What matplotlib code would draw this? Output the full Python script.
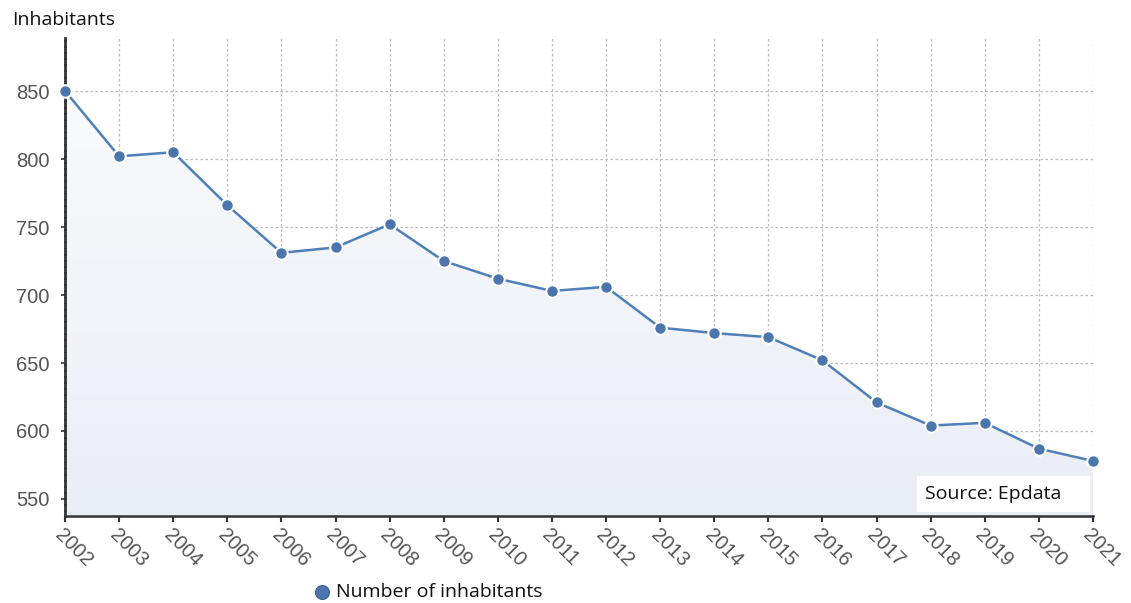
import matplotlib.pyplot as plt
import matplotlib.colors as mcolors
from matplotlib.patches import Rectangle
import numpy as np

years = list(range(2002, 2022))
inhabitants = [850, 802, 805, 766, 731, 735, 752, 725, 712, 703,
               706, 676, 672, 669, 652, 621, 604, 606, 587, 578]
y_ticks = [550, 600, 650, 700, 750, 800, 850]

line_color = '#4f7fb8'
marker_color = '#4a76ad'

W, H = 1131, 603
fig = plt.figure(figsize=(W / 100, H / 100), dpi=100)
ax = fig.add_axes([0.0575, 0.1443, 0.9089, 0.7927])
ax.set_xlim(2002, 2021)
ax.set_ylim(537.5, 889)

# gradient area under the line
fill = ax.fill_between(years, inhabitants, 537.5, color='none')
grad = np.linspace(0, 1, 256).reshape(-1, 1)
cmap = mcolors.LinearSegmentedColormap.from_list('g', ['#eaeef5', '#fafbfd'])
img = ax.imshow(grad, extent=[2002, 2021, 537.5, 889], aspect='auto',
                cmap=cmap, origin='lower', zorder=1)
img.set_clip_path(fill.get_paths()[0], transform=ax.transData)

ax.plot(years, inhabitants, color=line_color, lw=1.8, zorder=3,
        marker='o', markersize=9, markerfacecolor=marker_color,
        markeredgecolor='white', markeredgewidth=1.5, clip_on=False)

ax.set_xticks(years)
ax.set_yticks(y_ticks)
ax.grid(True, linestyle=(0, (2, 2)), color='#bbbbbb', lw=0.9, zorder=0)
ax.set_axisbelow(True)

for s in ['top', 'right']:
    ax.spines[s].set_visible(False)
ax.spines['bottom'].set_color('#333333')
ax.spines['bottom'].set_linewidth(1.8)
ax.spines['left'].set_color('#333333')
ax.spines['left'].set_linewidth(2)
ax.spines['left'].set_linestyle((0, (1.5, 0.7)))

ax.tick_params(axis='x', length=4, width=1.5, color='#333333', pad=3)
ax.tick_params(axis='y', length=3, width=1.2, color='#333333', pad=8)
for lbl in ax.get_yticklabels():
    lbl.set_fontfamily('Liberation Sans')
    lbl.set_fontsize(14.5)
    lbl.set_color('#555555')
for lbl in ax.get_xticklabels():
    lbl.set_fontfamily('Liberation Sans')
    lbl.set_fontsize(14.5)
    lbl.set_color('#555555')
    lbl.set_rotation(-45)
    lbl.set_ha('left')
    lbl.set_va('top')
    lbl.set_rotation_mode('anchor')

fig.text(12 / W, 1 - 20 / H, 'Inhabitants', fontsize=14,
         family='Open Sans', color='#111111', va='center', ha='left')

# source box
fig.patches.append(Rectangle((917 / W, 1 - 512 / H), 173 / W, 36 / H,
                             transform=fig.transFigure, facecolor='white',
                             edgecolor='none', zorder=5))
fig.text(925 / W, 1 - 494 / H, 'Source: Epdata', fontsize=14,
         family='Open Sans', color='#111111', ha='left', va='center',
         zorder=6)

# legend below
fig.lines.append(plt.Line2D([322 / W], [1 - 592 / H], marker='o',
                            markersize=10, markerfacecolor=marker_color,
                            markeredgecolor='#3a5f8f', markeredgewidth=0.8,
                            transform=fig.transFigure))
fig.text(336 / W, 1 - 592 / H, 'Number of inhabitants', fontsize=14,
         family='Open Sans', color='#111111', va='center', ha='left')

fig.savefig('out.png', dpi=100)
